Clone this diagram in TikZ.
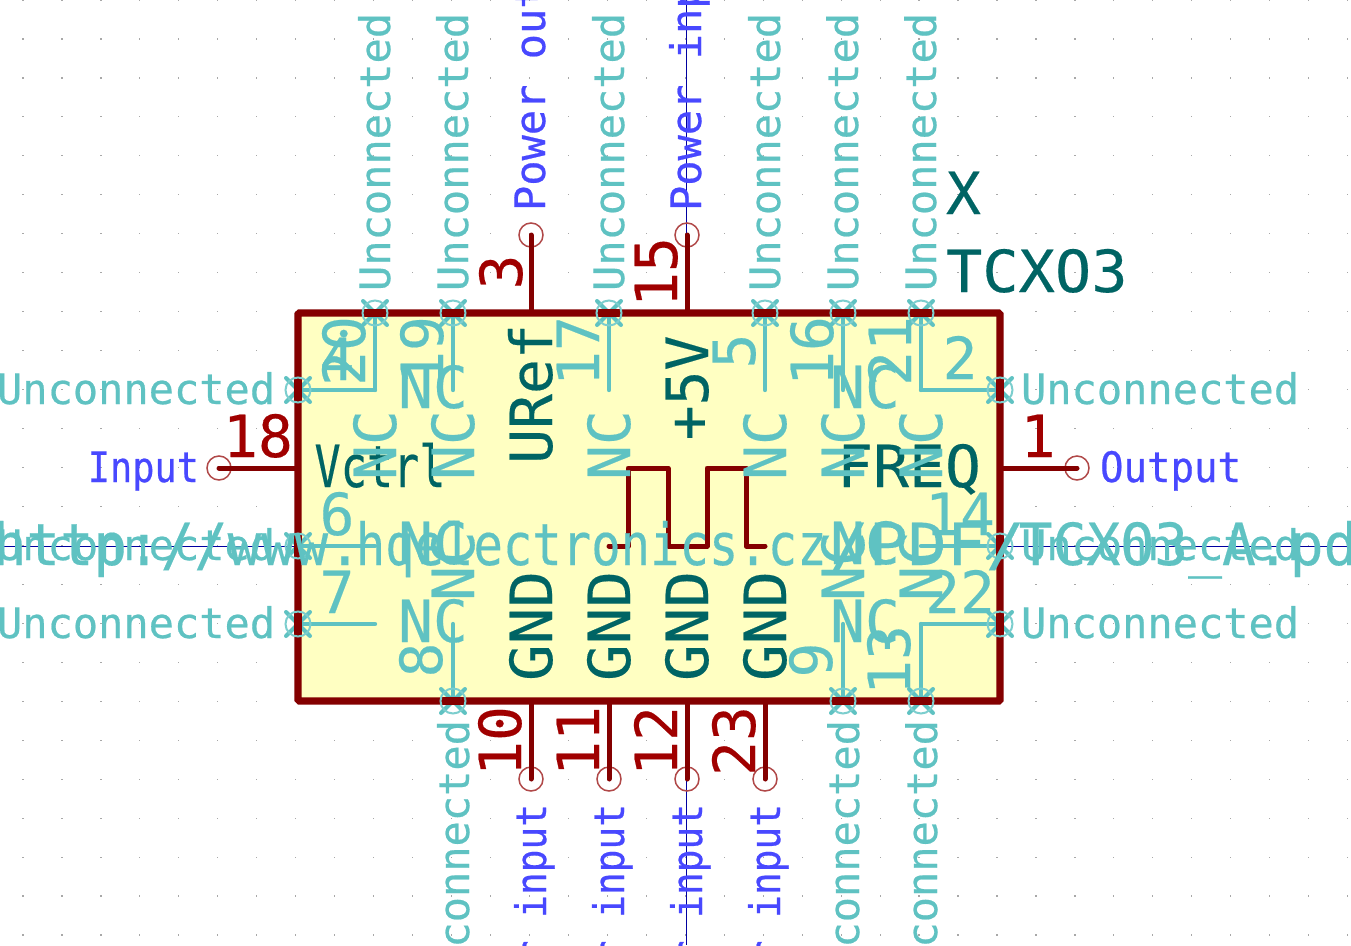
\documentclass[tikz,border=0pt]{standalone}
\usepackage{fontspec}
\setmainfont{DejaVu Sans Mono}
\newfontfamily\smallface[FakeBold=0.5]{DejaVu Sans Mono}
\newfontfamily\bigface[FakeBold=0.3]{DejaVu Sans Mono}
\definecolor{bodyred}{HTML}{840000}
\definecolor{numred}{HTML}{A00000}
\definecolor{nameteal}{HTML}{006464}
\definecolor{ncteal}{HTML}{5FC2C2}
\definecolor{ncpale}{HTML}{7CCECE}
\definecolor{elecblue}{HTML}{4848FF}
\definecolor{bodyfill}{HTML}{FFFFC2}
\definecolor{hairblue}{HTML}{0000A0}
\definecolor{endred}{HTML}{B04848}
\definecolor{griddot}{HTML}{A8A8A8}
\newcommand{\xs}[2]{\scalebox{#1}[1]{#2}}
\tikzset{
  x=1pt,y=-1pt,
  txt/.style={inner sep=0pt,outer sep=0pt,anchor=base},
  small/.style={txt,font=\smallface\fontsize{42}{42}\selectfont},
  big/.style={txt,font=\bigface\fontsize{58}{58}\selectfont},
  ncsmall/.style={small,text=ncteal},
  elec/.style={small,text=elecblue},
  pinnum/.style={big,text=numred},
  ncnum/.style={big,text=ncteal},
  ncname/.style={big,text=ncteal},
  pinname/.style={big,text=nameteal},
  up/.style={rotate=90},
  pinline/.style={draw=bodyred,line width=5pt,line cap=round},
  ncline/.style={draw=ncteal,line width=4.4pt,line cap=round,line join=round},
  endcirc/.style={circle,draw=endred,line width=1.5pt,minimum size=24pt,inner sep=0pt,fill=none},
  ncx/.style={draw=ncteal,line width=4pt,line cap=round},
  nccirc/.style={draw=ncpale,line width=2pt},
}
\newcommand{\ncmark}[2]{%
  \draw[ncx] ($(#1)+(-12,-12)$) -- ($(#1)+(12,12)$);
  \draw[ncx] ($(#1)+(-12,12)$) -- ($(#1)+(12,-12)$);
  \fill[bodyred] #2;
  \draw[nccirc] (#1) circle (12.5);
}
\usetikzlibrary{calc}
\begin{document}
\begin{tikzpicture}
\useasboundingbox (0,0) rectangle (1351,945);
\clip (0,0) rectangle (1351,945);
\fill[white] (0,0) rectangle (1351,945);
% grid
\foreach \i in {0,...,34}{\foreach \j in {0,...,24}{
  \fill[griddot] ({23+38.96*\i-0.6},{38.96*\j-0.6}) rectangle +(1.2,1.2);
}}
% crosshair
\coordinate (hL) at (0,546); \coordinate (hR) at (1351,546);
\coordinate (vT) at (686,0); \coordinate (vB) at (686,945);
\draw[hairblue,line width=1pt] (hL) -- (hR);
\draw[hairblue,line width=1pt] (vT) -- (vB);
% connected pins
\foreach \n/\x/\y/\ax/\ay in {
  a/219/468/298/468, b/1077/468/1000/468,
  c/531/235/531/313, d/687/235/687/313,
  e/531/779/531/701, f/609/779/609/701, g/687/779/687/701, h/765/779/765/701}{
  \coordinate (p\n) at (\ax,\ay);
  \node[endcirc] (o\n) at (\x,\y) {};
  \draw[pinline] (\x,\y) -- (p\n);
}
% body
\node[inner sep=0pt,minimum width=702pt,minimum height=388pt,fill=bodyfill,draw=bodyred,line width=7.4pt,rounded corners=1.5pt] (body) at (649,507) {};
% square wave
\coordinate (w0) at (609,546);
\coordinate (w1) at (765,546);
\draw[draw=bodyred,line width=5pt,line cap=round,line join=round] (w0) -- (628,546) -- (628,468) -- (668,468) -- (668,546) -- (707,546) -- (707,468) -- (746,468) -- (746,546) -- (w1);
% NC pins: top and bottom have a horizontal bar, left and right a vertical one
\foreach \n/\x/\y/\xa/\ya in {
  t1/375/313/375/390, t2/453/313/453/390, t3/609/313/609/390, t4/765/313/765/390, t5/843/313/843/390, t6/921/313/921/390,
  b1/453/701/453/624, b2/843/701/843/624, b3/921/701/921/624}{
  \coordinate (n\n) at (\x,\y);
  \coordinate (m\n) at (\xa,\ya);
  \draw[ncline] (n\n) -- (m\n);
  \ncmark{n\n}{($(n\n)+(-11,-4)$) rectangle ($(n\n)+(11,4)$)}
}
\foreach \n/\x/\y/\xa/\ya in {
  l1/298/390/375/390, l2/298/546/375/546, l3/298/624/375/624,
  r1/1000/390/921/390, r2/1000/546/921/546, r3/1000/624/921/624}{
  \coordinate (n\n) at (\x,\y);
  \coordinate (m\n) at (\xa,\ya);
  \draw[ncline] (n\n) -- (m\n);
  \ncmark{n\n}{($(n\n)+(-4,-11)$) rectangle ($(n\n)+(4,11)$)}
}
% names in the body
\node[pinname] (vctrl) at (380,487) {\xs{.75}{Vctrl}};
\node[pinname] (freq) at (909,487) {\xs{1.03}{FREQ}};
\node[pinname,up] (uref) at (552,394) {\xs{1.0}{URef}};
\node[pinname,up] (fivev) at (708,388) {+5V};
\foreach \n/\x in {1/531,2/609,3/687,4/765}{
  \node[pinname,up] (gnd\n) at (\x+21,626) {\xs{1.05}{GND}};
}
% pin numbers
\node[pinnum] (n18) at (258,457) {18};
\node[pinnum] (n1) at (1038,457) {1};
\node[pinnum,up] (n3) at (522,272) {3};
\node[pinnum,up] (n15) at (677,272) {15};
\node[pinnum,up] (n10) at (521,741) {10};
\node[pinnum,up] (n11) at (599,741) {11};
\node[pinnum,up] (n12) at (677,741) {12};
\node[pinnum,up] (n23) at (755,741) {23};
% NC numbers
\foreach \t/\x in {20/365,19/443,17/599,5/755,16/833,21/911}{
  \node[ncnum,up] (nt\t) at (\x,351) {\t};
}
\foreach \t/\x in {8/442,9/832,13/910}{
  \node[ncnum,up] (nb\t) at (\x,660) {\t};
}
\foreach \t/\y in {4/380,6/535,7/613}{
  \node[ncnum] (nl\t) at (337,\y) {\t};
}
\foreach \t/\y in {2/379,14/535,22/613}{
  \node[ncnum] (nr\t) at (960,\y) {\t};
}
% NC names
\foreach \x in {375,453,609,765,843,921}{
  \node[ncname,up] (nct\x) at (\x+21,445) {NC};
}
\foreach \x in {453,843,921}{
  \node[ncname,up] (ncb\x) at (\x+21,566) {NC};
}
\foreach \y in {408,564,642}{
  \node[ncname] (ncl\y) at (433,\y) {NC};
  \node[ncname] (ncr\y) at (865,\y) {NC};
}
% Unconnected labels
\foreach \y in {404,560,638}{
  \node[ncsmall,anchor=base west] (ul\y) at (-3,\y) {Unconnected};
  \node[ncsmall,anchor=base west] (ur\y) at (1021,\y) {Unconnected};
}
\foreach \x in {390,468,624,780,858,936}{
  \node[ncsmall,up,anchor=base west] (ut\x) at (\x,291) {Unconnected};
}
\foreach \x in {469,859,937}{
  \node[ncsmall,up,anchor=base east] (ub\x) at (\x,720) {Unconnected};
}
% electrical type labels
\node[elec,anchor=base east] (input) at (199,482) {\xs{.88}{Input}};
\node[elec,anchor=base west] (output) at (1100,482) {\xs{.93}{Output}};
\node[elec,up,anchor=base west] (pout) at (545,211) {Power output};
\node[elec,up,anchor=base west] (pin) at (701,211) {Power input};
\foreach \x in {546,624,702,780}{
  \node[elec,up,anchor=base east] (pi\x) at (\x,804) {\xs{.9}{Power input}};
}
% reference and value
\node[pinname,anchor=base west] (ref) at (946,214) {X};
\node[pinname,anchor=base west] (val) at (946,292) {\xs{1.04}{TCXO3}};
% datasheet
\node[ncname,anchor=base west] (url) at (-7,565) {\xs{.96}{http://www.}\kern-6pt\xs{.843}{hqelectronics.cz}\kern3pt\xs{1.117}{/PDF/}\kern-6pt\xs{.97}{TCXO3\_A.pdf}};
\end{tikzpicture}
\end{document}
